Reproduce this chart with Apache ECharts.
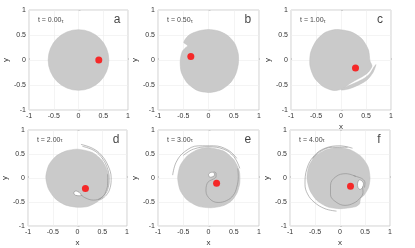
<!DOCTYPE html>
<html><head><meta charset="utf-8">
<script src="https://cdn.jsdelivr.net/npm/echarts@6/dist/echarts.min.js"></script>
<style>html,body{margin:0;padding:0;background:#fff}#c{width:415px;height:248px}</style>
</head><body><div id="c"></div>
<script>
// ---------- data ----------
const panelLetters = ['a','b','c','d','e','f'];
const timeLabels = ['0.00','0.50','1.00','2.00','3.00','4.00'];
const axisTicks = [-1, -0.5, 0, 0.5, 1];
// red point vortex positions
const dotPositions = [[0.41,0.0],[-0.35,0.07],[0.29,-0.16],[0.16,-0.22],[0.16,-0.11],[0.21,-0.17]];
// panel a: circular patch [cx, cy, r]
const circleA = [0, 0, 0.61];
// patch outlines
const bodyB = [[0,0.61],[0.2,0.58],[0.38,0.49],[0.52,0.33],[0.59,0.12],[0.59,-0.08],[0.54,-0.28],[0.43,-0.46],[0.24,-0.60],[0.02,-0.65],[-0.22,-0.61],[-0.42,-0.46],[-0.54,-0.24],[-0.56,-0.01],[-0.52,0.17],[-0.45,0.25],[-0.41,0.28],[-0.44,0.31],[-0.49,0.35],[-0.45,0.43],[-0.37,0.51],[-0.2,0.58]];
const bodyC = [[-0.09,0.61],[0.21,0.56],[0.42,0.42],[0.55,0.2],[0.58,-0.02],[0.62,-0.12],[0.55,-0.24],[0.43,-0.33],[0.30,-0.40],[0.18,-0.47],[0.02,-0.58],[-0.15,-0.61],[-0.36,-0.53],[-0.53,-0.36],[-0.62,-0.12],[-0.61,0.14],[-0.5,0.38],[-0.32,0.55]];
const tailC = [[0.70,-0.09],[0.64,-0.25],[0.52,-0.40],[0.35,-0.50],[0.15,-0.58],[0.0,-0.60],[0.12,-0.53],[0.30,-0.45],[0.46,-0.37],[0.58,-0.27],[0.66,-0.14]];
const bodyD = [[0,0.6],[0.3,0.53],[0.5,0.36],[0.61,0.12],[0.62,-0.12],[0.55,-0.33],[0.42,-0.48],[0.22,-0.59],[0.0,-0.61],[-0.25,-0.56],[-0.45,-0.43],[-0.59,-0.22],[-0.64,0.02],[-0.58,0.27],[-0.44,0.45],[-0.24,0.56]];
const holeD = [[-0.07,-0.29],[-0.03,-0.27],[0.02,-0.29],[0.05,-0.32],[0.09,-0.36],[0.03,-0.37],[-0.04,-0.36],[-0.07,-0.33]];
const filD1 = [[0.07,0.70],[0.30,0.62],[0.48,0.48],[0.62,0.25],[0.68,0.0],[0.66,-0.2],[0.58,-0.36],[0.45,-0.46]];
const filD2 = [[0.10,0.66],[0.32,0.58],[0.48,0.44],[0.59,0.24],[0.64,0.0],[0.62,-0.2],[0.55,-0.35],[0.42,-0.45]];
const spiralD = [[0.06,-0.34],[0.15,-0.41],[0.32,-0.46],[0.49,-0.41],[0.57,-0.29],[0.61,-0.11],[0.61,0.08]];
const bodyE = [[0,0.63],[0.3,0.56],[0.5,0.38],[0.61,0.14],[0.62,-0.1],[0.57,-0.3],[0.5,-0.42],[0.43,-0.5],[0.28,-0.58],[0.05,-0.62],[-0.2,-0.59],[-0.42,-0.46],[-0.56,-0.26],[-0.61,0.0],[-0.56,0.26],[-0.42,0.46],[-0.22,0.59]];
const holeE = [[0.0,0.07],[0.03,0.11],[0.08,0.12],[0.12,0.09],[0.11,0.04],[0.06,0.02],[0.02,0.02]];
const filE1 = [[-0.71,0.06],[-0.64,0.33],[-0.47,0.55],[-0.2,0.67],[0.1,0.67],[0.39,0.58],[0.56,0.41]];
const filE2 = [[-0.5,0.47],[-0.3,0.6],[0,0.65],[0.3,0.6],[0.5,0.45],[0.62,0.2]];
const spiralE = [[0.10,0.13],[0.15,0.10],[0.15,0.03],[0.1,-0.02],[0.02,-0.06],[-0.03,-0.12],[-0.05,-0.27],[0.03,-0.44],[0.19,-0.51],[0.36,-0.47],[0.49,-0.36],[0.56,-0.19],[0.59,0.03],[0.58,0.2]];
const bodyF = [[-0.07,0.63],[0.2,0.59],[0.42,0.45],[0.56,0.24],[0.60,0.0],[0.57,-0.2],[0.48,-0.36],[0.41,-0.43],[0.39,-0.54],[0.3,-0.6],[0.0,-0.64],[-0.25,-0.6],[-0.46,-0.47],[-0.6,-0.26],[-0.66,0.0],[-0.62,0.25],[-0.5,0.45],[-0.3,0.58]];
const holeF = [[0.38,-0.04],[0.44,-0.06],[0.47,-0.12],[0.45,-0.2],[0.40,-0.24],[0.36,-0.2],[0.35,-0.12]];
const filF1 = [[0.25,0.62],[0.0,0.67],[-0.3,0.62],[-0.52,0.46],[-0.66,0.2],[-0.7,-0.13],[-0.65,-0.33],[-0.52,-0.5],[-0.3,-0.64],[-0.07,-0.69]];
const filF2 = [[-0.55,0.4],[-0.4,0.55],[-0.15,0.64],[0.15,0.64]];
const ringF = [[0.32,0.03],[0.12,0.09],[-0.08,0.03],[-0.19,-0.15],[-0.19,-0.35],[-0.08,-0.5],[0.1,-0.57],[0.28,-0.52],[0.4,-0.42],[0.46,-0.3],[0.45,-0.18]];
const arcF = [[0.27,0.05],[0.36,0.02],[0.45,-0.02],[0.5,-0.1],[0.49,-0.2]];

// ---------- layout ----------
const grids = [
  {left:29, top:10, width:99, height:100},
  {left:158, top:10, width:101, height:100},
  {left:291, top:10, width:100, height:100},
  {left:28, top:130, width:99, height:100},
  {left:158, top:130, width:101, height:100},
  {left:290, top:130, width:100, height:100}
];
const FONT = 'Liberation Sans, Arial, sans-serif';
const GRAY = '#cacaca';
const LINE = '#8c8c8c';

const chart = echarts.init(document.getElementById('c'), null, {renderer:'canvas'});
const xAxes = [], yAxes = [], series = [];

grids.forEach((g, i) => {
  const base = {
    gridIndex: i, type: 'value', min: axisTicks[0], max: axisTicks[axisTicks.length-1], interval: 0.5,
    axisLine: {show: false},
    axisTick: {show: true, inside: true, length: 2, lineStyle: {color: '#b8b8b8', width: 0.6}},
    splitLine: {show: true, lineStyle: {color: '#ececec', width: 0.6}},
    axisLabel: {fontSize: 7, color: '#333', fontFamily: FONT, margin: 3},
    nameTextStyle: {fontSize: 8, color: '#333', fontFamily: FONT}
  };
  xAxes.push(Object.assign({}, base, (i >= 2) ? {name: 'x', nameLocation: 'middle', nameGap: 13} : {}));
  yAxes.push(Object.assign({}, base, {name: 'y', nameLocation: 'middle', nameGap: 17, nameRotate: 90}));
});

function polySeries(i, pts, fill, stroke, z) {
  return {
    type: 'custom', xAxisIndex: i, yAxisIndex: i, z: z, silent: true,
    data: pts, encode: {x: 0, y: 1},
    renderItem: (params, api) => {
      if (params.dataIndex !== 0) return null;
      const points = pts.map(p => api.coord(p));
      return {type: 'polygon', shape: {points: points, smooth: 0.25},
        style: {fill: fill, stroke: stroke, lineWidth: 0.5}};
    }
  };
}
function lineSeries(i, pts, z) {
  return {
    type: 'line', xAxisIndex: i, yAxisIndex: i, z: z, silent: true,
    data: pts, smooth: 0.4, symbol: 'none',
    lineStyle: {color: LINE, width: 0.6}
  };
}

// panel a circle
series.push({
  type: 'custom', xAxisIndex: 0, yAxisIndex: 0, z: 2, silent: true,
  data: [circleA], encode: {x: 0, y: 1},
  renderItem: (params, api) => {
    const c = api.coord([api.value(0), api.value(1)]);
    const r = api.size([api.value(2), api.value(2)]);
    return {type: 'circle', shape: {cx: c[0], cy: c[1], r: (r[0] + r[1]) / 2},
      style: {fill: GRAY, stroke: '#bdbdbd', lineWidth: 0.5}};
  }
});
series.push(polySeries(1, bodyB, GRAY, '#bdbdbd', 2));
series.push(polySeries(2, bodyC, GRAY, '#bdbdbd', 2));
series.push(polySeries(2, tailC, GRAY, '#bdbdbd', 2));
series.push(polySeries(3, bodyD, GRAY, '#bdbdbd', 2));
series.push(polySeries(3, holeD, '#ffffff', '#7a7a7a', 3));
series.push(lineSeries(3, filD1, 3));
series.push(lineSeries(3, filD2, 3));
series.push(lineSeries(3, spiralD, 3));
series.push(polySeries(4, bodyE, GRAY, '#bdbdbd', 2));
series.push(polySeries(4, holeE, '#ffffff', '#7a7a7a', 3));
series.push(lineSeries(4, filE1, 3));
series.push(lineSeries(4, filE2, 3));
series.push(lineSeries(4, spiralE, 3));
series.push(polySeries(5, bodyF, GRAY, '#bdbdbd', 2));
series.push(polySeries(5, holeF, '#ffffff', '#7a7a7a', 3));
series.push(lineSeries(5, filF1, 3));
series.push(lineSeries(5, filF2, 3));
series.push(lineSeries(5, ringF, 3));
series.push(lineSeries(5, arcF, 3));

// red dots and labels
grids.forEach((g, i) => {
  series.push({
    type: 'scatter', xAxisIndex: i, yAxisIndex: i, z: 5, silent: true,
    data: [dotPositions[i]], symbolSize: 7, itemStyle: {color: '#ff0000'}
  });
  series.push({
    type: 'scatter', xAxisIndex: i, yAxisIndex: i, z: 6, silent: true,
    data: [[-0.82, 0.8]], symbolSize: 0,
    label: {show: true, position: 'right', distance: 0,
      formatter: () => '{t|t = ' + timeLabels[i] + '}{s|τ}',
      rich: {t: {fontSize: 7, color: '#111', fontFamily: FONT},
             s: {fontSize: 5.5, color: '#111', fontFamily: FONT, verticalAlign: 'bottom', padding: [2,0,0,0]}}}
  });
  series.push({
    type: 'scatter', xAxisIndex: i, yAxisIndex: i, z: 6, silent: true,
    data: [[0.78, 0.8]], symbolSize: 0,
    label: {show: true, position: 'inside', formatter: panelLetters[i],
      fontSize: 12, color: '#111', fontFamily: FONT}
  });
});

chart.setOption({
  animation: false,
  backgroundColor: '#ffffff',
  grid: grids.map(g => Object.assign({show: true, borderColor: '#c4c4c4', borderWidth: 0.8, containLabel: false}, g)),
  xAxis: xAxes,
  yAxis: yAxes,
  series: series
});
</script>
</body></html>
